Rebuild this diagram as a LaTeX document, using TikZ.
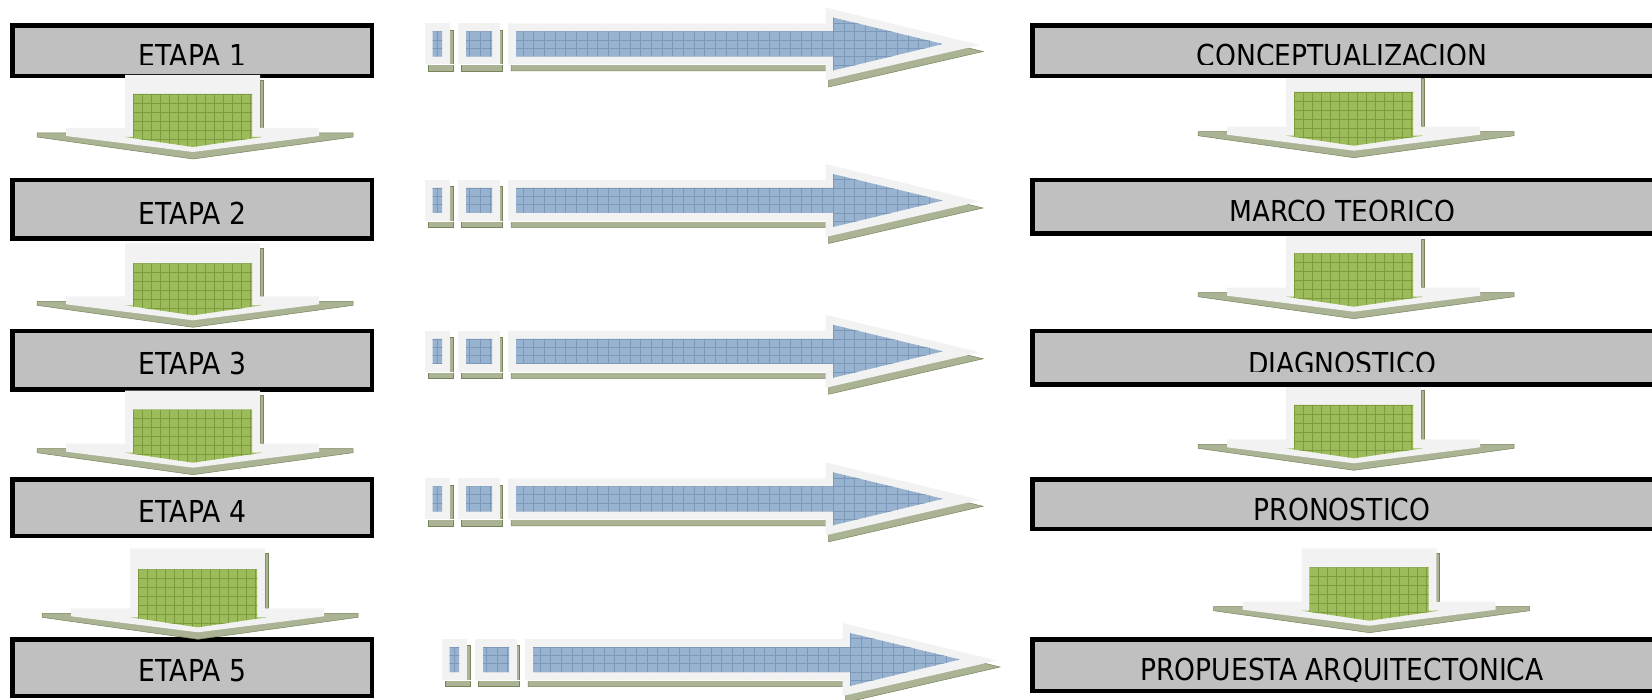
\documentclass[tikz,border=0pt]{standalone}
\usepackage{fontspec}
\newfontfamily\tah{DejaVu Sans}[FakeStretch=0.88]
\definecolor{boxgray}{HTML}{C0C0C0}
\definecolor{lightgr}{HTML}{F2F2F2}
\definecolor{arrblue}{HTML}{98B3CF}
\definecolor{gridblue}{HTML}{7B98B9}
\definecolor{arrgreen}{HTML}{9CBB5A}
\definecolor{gridgreen}{HTML}{7C9A3E}
\definecolor{shadowol}{HTML}{AAB394}
\definecolor{shadowln}{HTML}{76845A}
\tikzset{
  stagebox/.style={rectangle, draw=black, line width=4.5pt, fill=boxgray, inner sep=0pt},
  lbl/.style={anchor=base, inner sep=0pt, font=\tah\fontsize{30.2}{36}\selectfont},
  shadowfill/.style={fill=shadowol, draw=shadowln, line width=0.5pt},
  gline/.style={gridgreen, line width=0.6pt},
  bline/.style={gridblue, line width=0.6pt},
}
\newcommand\greenarrow[4]{%
\begin{scope}[shift={(#1,#2)}]
\fill[shadowfill] (-88,#3+5) -- (228,#3+5) -- (228,#3+9) -- (68,#3+31) -- (-88,#3+9) -- cycle;
\fill[shadowfill] (135,5) rectangle (138,#3);
\fill[lightgr] (0,0) -- (135,0) -- (135,#3) -- (194,#3) -- (194,#3+8) -- (68,#3+24) -- (-59,#3+8) -- (-59,#3) -- (0,#3) -- cycle;
\fill[arrgreen] (8,#4) -- (127,#4) -- (127,#3+9) -- (137,#3+9) -- (68,#3+19) -- (0,#3+9) -- (8,#3+9) -- cycle;
\begin{scope}
\clip (8,#4) -- (127,#4) -- (127,#3+9) -- (137,#3+9) -- (68,#3+19) -- (0,#3+9) -- (8,#3+9) -- cycle;
\foreach \k in {0,...,15} \draw[gline] (8+9*\k,#4) -- (8+9*\k,#3+20);
\foreach \k in {0,...,8} \draw[gline] (0,#4+9*\k) -- (137,#4+9*\k);
\end{scope}
\end{scope}}
\newcommand\bluearrow[2]{%
\begin{scope}[shift={(#1,#2)}]
\begin{scope}[shift={(3,6.5)}]
\fill[shadowfill] (0,-20.5) rectangle (25,20.5);
\fill[shadowfill] (33,-20.5) rectangle (74.5,20.5);
\fill[shadowfill] (83,-20.5) -- (400.6,-20.5) -- (400.6,-36.5) -- (555,1) -- (400.6,36.5) -- (400.6,20.5) -- (83,20.5) -- cycle;
\end{scope}
\fill[white] (0,20.5) rectangle (400.6,21.3);
\fill[lightgr] (0,-20.5) rectangle (25,20.5);
\fill[lightgr] (33,-20.5) rectangle (74.5,20.5);
\fill[lightgr] (83,-20.5) -- (400.6,-20.5) -- (400.6,-36.5) -- (555,1) -- (400.6,36.5) -- (400.6,20.5) -- (83,20.5) -- cycle;
\fill[arrblue] (7.5,-12.5) rectangle (17,12.5) (41,-12.5) rectangle (67,12.5) (91,-12.5) -- (408,-12.5) -- (408,-26.5) -- (518,0) -- (408,26.5) -- (408,12.5) -- (91,12.5) -- cycle;
\begin{scope}
\clip (7.5,-12.5) rectangle (17,12.5) (41,-12.5) rectangle (67,12.5) (91,-12.5) -- (408,-12.5) -- (408,-26.5) -- (518,0) -- (408,26.5) -- (408,12.5) -- (91,12.5) -- cycle;
\foreach \k in {0,...,48} \draw[bline] (12.2+10.7*\k,-30) -- (12.2+10.7*\k,30);
\foreach \k in {-3,...,2} \draw[bline] (0,4.17+8.33*\k) -- (520,4.17+8.33*\k);
\end{scope}
\end{scope}}
\begin{document}
\begin{tikzpicture}[x=1pt,y=-1pt]
\path[use as bounding box] (0,0) rectangle (1652,700);
\clip (0,0) rectangle (1652,700);
% left column boxes
\node[stagebox, minimum width=359.5pt, minimum height=50.5pt] (e1) at (192,51) {};
\node[stagebox, minimum width=359.5pt, minimum height=58.5pt] (e2) at (192,209.5) {};
\node[stagebox, minimum width=359.5pt, minimum height=58.5pt] (e3) at (192,360.5) {};
\node[stagebox, minimum width=359.5pt, minimum height=56.5pt] (e4) at (192,507.5) {};
\node[stagebox, minimum width=359.5pt, minimum height=56.5pt] (e5) at (192,667.5) {};
\begin{scope}
\clip (10,20) rectangle (374,65);
\node[lbl] (te1) at (192.5,67) {ETAPA 1};
\end{scope}
\node[lbl] (te2) at (192.5,224.5) {ETAPA 2};
\node[lbl] (te3) at (192.5,374.5) {ETAPA 3};
\node[lbl] (te4) at (192.5,522) {ETAPA 4};
\node[lbl] (te5) at (192.5,681.3) {ETAPA 5};
% left column arrows
\greenarrow{125}{75}{53}{19}
\greenarrow{125}{243.3}{53}{20}
\greenarrow{125}{390.7}{53}{19}
\greenarrow{130}{548.3}{60}{21}
% right column arrows
\greenarrow{1286}{73}{53.7}{19}
\greenarrow{1286}{234}{53.7}{19.3}
\greenarrow{1286}{385}{54.3}{20}
\greenarrow{1301.5}{548.3}{53.4}{19}
% right column boxes
\node[stagebox, minimum width=635.5pt, minimum height=50.5pt] (r1) at (1350,51) {};
\node[stagebox, minimum width=635.5pt, minimum height=53.5pt] (r2) at (1350,207) {};
\node[stagebox, minimum width=635.5pt, minimum height=53.5pt] (r3) at (1350,358) {};
\node[stagebox, minimum width=635.5pt, minimum height=49.5pt] (r4) at (1350,504) {};
\node[stagebox, minimum width=635.5pt, minimum height=51.5pt] (r5) at (1350,665) {};
\begin{scope}
\clip (1030,20) rectangle (1652,65);
\node[lbl] (tr1) at (1342,67) {CONCEPTUALIZACION};
\end{scope}
\begin{scope}
\clip (1030,180) rectangle (1652,221);
\node[lbl] (tr2) at (1342,223) {MARCO TEORICO};
\end{scope}
\begin{scope}
\clip (1030,330) rectangle (1652,371.7);
\node[lbl] (tr3) at (1342,374.7) {DIAGNOSTICO};
\end{scope}
\node[lbl] (tr4) at (1342,520.5) {PRONOSTICO};
\begin{scope}
\clip (1030,640) rectangle (1652,681.5);
\node[lbl] (tr5) at (1342,680.5) {PROPUESTA ARQUITECTONICA};
\end{scope}
% blue arrows
\bluearrow{425}{44}
\bluearrow{425}{200.5}
\bluearrow{425}{351.3}
\bluearrow{425}{498.8}
\bluearrow{442}{659.5}
\end{tikzpicture}
\end{document}
